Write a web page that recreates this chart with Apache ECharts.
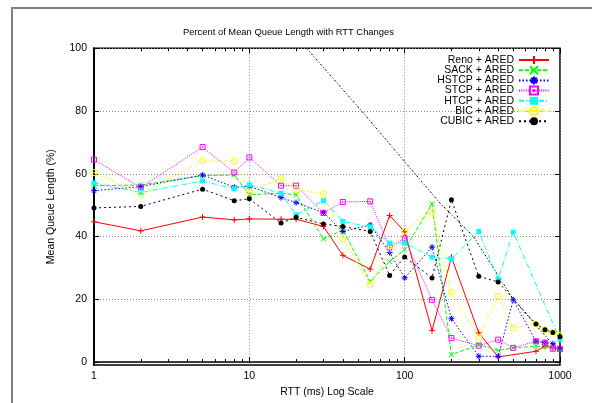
<!DOCTYPE html>
<html>
<head>
<meta charset="utf-8">
<script src="https://cdn.jsdelivr.net/npm/echarts@6/dist/echarts.min.js"></script>
<style>
html,body{margin:0;padding:0;background:#fff;}
#chart{width:592px;height:403px;}
</style>
</head>
<body>
<div id="chart"></div>
<script>
// RTT sample points (ms)
const rtt = [1, 2, 5, 8, 10, 16, 20, 30, 40, 60, 80, 100, 150, 200, 300, 400, 500, 700, 800, 900, 1000];

// Mean queue length (% of buffer) for each TCP variant with ARED
const reno  = [44.7, 41.8, 46.2, 45.3, 45.6, 45.5, 45.5, 43.2, 34.0, 29.6, 46.7, 41.5, 10.0, 33.4, 9.3, 1.6, null, 3.4, 5.0, 4.5, 4.3];
const sack  = [56.2, 56.4, 59.4, 59.6, 53.3, 53.8, 53.3, 39.2, 42.1, 25.7, 32.0, 35.8, 50.4, 2.3, 5.5, 3.7, 4.5, 5.0, 4.9, 4.5, 4.0];
const hstcp = [54.6, 55.9, 59.6, 55.7, 56.0, 52.4, 50.8, 47.6, 41.6, 43.7, 34.9, 26.8, 36.6, 13.8, 1.8, 1.8, 19.8, 6.6, 6.2, 5.8, 4.5];
const stcp  = [64.5, 55.6, 68.5, 60.4, 65.2, 56.2, 56.2, 47.5, 51.0, 51.2, 36.5, 39.4, 19.8, 7.6, 5.2, 7.1, 4.5, 6.6, 6.1, 4.2, 4.1];
const htcp  = [57.1, 54.0, 57.7, 55.2, 56.5, 53.8, 46.9, 51.4, 44.8, 43.1, 37.9, 37.9, 33.4, 32.8, 41.6, 26.4, 41.4, null, null, null, 7.1];
const bic   = [60.4, 53.4, 64.1, 64.0, 54.3, 58.6, 55.0, 53.6, 39.3, 24.5, 36.0, 41.8, 47.9, 22.3, 7.8, 20.9, 10.8, 12.2, 10.3, 9.5, 8.5];
const cubic = [49.1, 49.6, 55.1, 51.4, 52.0, 44.3, 46.1, 44.0, 43.2, 41.6, 27.6, 33.5, 26.8, 51.7, 27.3, 25.5, null, 12.1, 10.3, 9.4, 8.0];

// Unlabelled dash-dot reference curve
const guideRtt = [23.4, 52.9, 100, 169, 277, 500, 1000];
const guideVal = [100, 80, 63.9, 50.6, 40, 20, 3];

// Axis ticks
const yTicks = [0, 20, 40, 60, 80, 100];
const xMajor = [1, 10, 100, 1000];
const xMinor = [2,3,4,5,6,7,8,9,20,30,40,50,60,70,80,90,200,300,400,500,600,700,800,900];

const FONT = '"Liberation Sans", Arial, Helvetica, sans-serif';

const pair = (xs, ys) => xs.map((x, i) => [x, ys[i]]);

// marker shapes
const PLUS = 'path://M0,5L10,5M5,0L5,10';
const CROSS = 'path://M0,0L10,10M10,0L0,10';
const STAR = 'path://M0,5L10,5M5,0L5,10M1.5,1.5L8.5,8.5M8.5,1.5L1.5,8.5';
const OSQUARE = 'path://M0,0L10,0L10,10L0,10ZM4.5,4.5L5.5,4.5L5.5,5.5L4.5,5.5Z';
const OCIRCLE = 'path://M10,5A5,5,0,1,1,0,5A5,5,0,1,1,10,5ZM4.6,5A0.4,0.4,0,1,1,5.4,5A0.4,0.4,0,1,1,4.6,5Z';

function strokeSeries(name, ys, color, dash, symbol, size) {
  return {
    name, type: 'line', data: pair(rtt, ys), connectNulls: true,
    symbol, symbolSize: size, showSymbol: true,
    lineStyle: { color, width: 1, type: dash },
    itemStyle: { color: 'rgba(0,0,0,0)', borderColor: color, borderWidth: 1 },
    emphasis: { disabled: true }, animation: false, z: 3
  };
}
function fillSeries(name, ys, color, dash, symbol, size) {
  return {
    name, type: 'line', data: pair(rtt, ys), connectNulls: true,
    symbol, symbolSize: size, showSymbol: true,
    lineStyle: { color, width: 1, type: dash },
    itemStyle: { color, borderWidth: 0 },
    emphasis: { disabled: true }, animation: false, z: 3
  };
}

const series = [
  strokeSeries('Reno + ARED', reno, '#ff0000', 'solid', PLUS, 6),
  strokeSeries('SACK + ARED', sack, '#00ff00', [4, 2], CROSS, 5),
  strokeSeries('HSTCP + ARED', hstcp, '#0000ff', [1.5, 2], STAR, 6),
  strokeSeries('STCP + ARED', stcp, '#ff00ff', [1, 1.2], OSQUARE, 5),
  fillSeries('HTCP + ARED', htcp, '#00ffff', [5, 2, 1, 2], 'rect', 5),
  strokeSeries('BIC + ARED', bic, '#ffff00', [2, 2], OCIRCLE, 6),
  fillSeries('CUBIC + ARED', cubic, '#000000', [2, 3], 'circle', 5),
  {
    name: 'guide', type: 'line', data: pair(guideRtt, guideVal), symbol: 'none',
    lineStyle: { color: '#000', width: 1, type: [2, 2, 1, 2] },
    emphasis: { disabled: true }, animation: false, z: 2
  }
];

const gridLine = { show: true, lineStyle: { color: '#888', width: 1, type: [1, 2] } };

const chart = echarts.init(document.getElementById('chart'), null, { renderer: 'canvas' });
chart.setOption({
  backgroundColor: '#fff',
  animation: false,
  textStyle: { fontFamily: FONT },
  title: {
    text: 'Percent of Mean Queue Length with RTT Changes',
    left: 178, top: 23,
    textStyle: { fontFamily: FONT, fontSize: 9.4, fontWeight: 'normal', color: '#000' }
  },
  legend: {
    data: series.slice(0, 7).map(s => s.name),
    orient: 'vertical', right: 37, top: 49.5,
    align: 'right', itemWidth: 30, itemHeight: 10, itemGap: -0.8,
    textStyle: { fontFamily: FONT, fontSize: 10.5, color: '#000', lineHeight: 10 },
    selectedMode: false
  },
  grid: {
    left: 94, right: 32, top: 48.3, bottom: 37.6,
    show: true, borderColor: '#000', borderWidth: 1.5, backgroundColor: 'transparent'
  },
  xAxis: [
    {
      type: 'log', logBase: 10, min: 1, max: 1000, position: 'bottom',
      name: 'RTT (ms) Log Scale', nameLocation: 'middle', nameGap: 21,
      nameTextStyle: { fontFamily: FONT, fontSize: 10.5, color: '#000' },
      axisLine: { show: true, lineStyle: { color: '#000', width: 1.5 } },
      axisTick: { show: true, inside: true, length: 5, customValues: xMajor, lineStyle: { color: '#000' } },
      axisLabel: { show: true, customValues: xMajor, margin: 6, fontFamily: FONT, fontSize: 10.5, color: '#000',
                   formatter: v => String(Math.round(v)) },
      splitLine: gridLine, minorTick: { show: false }
    },
    {
      type: 'log', logBase: 10, min: 1, max: 1000, position: 'bottom',
      axisLine: { show: false },
      axisTick: { show: true, inside: true, length: 3, customValues: xMinor, lineStyle: { color: '#000' } },
      axisLabel: { show: false }, splitLine: { show: false }
    },
    {
      type: 'log', logBase: 10, min: 1, max: 1000, position: 'top',
      axisLine: { show: false },
      axisTick: { show: true, inside: true, length: 5, customValues: xMajor, lineStyle: { color: '#000' } },
      axisLabel: { show: false }, splitLine: { show: false }
    },
    {
      type: 'log', logBase: 10, min: 1, max: 1000, position: 'top',
      axisLine: { show: false },
      axisTick: { show: true, inside: true, length: 3, customValues: xMinor, lineStyle: { color: '#000' } },
      axisLabel: { show: false }, splitLine: { show: false }
    }
  ],
  yAxis: [
    {
      type: 'value', min: -1, max: 100, position: 'left',
      name: 'Mean Queue Length (%)', nameLocation: 'middle', nameGap: 37, nameRotate: 90,
      nameTextStyle: { fontFamily: FONT, fontSize: 10.5, color: '#000' },
      axisLine: { show: true, lineStyle: { color: '#000', width: 2 } },
      axisTick: { show: true, inside: true, length: 5, customValues: yTicks, lineStyle: { color: '#000' } },
      axisLabel: { show: true, customValues: yTicks, margin: 7, fontFamily: FONT, fontSize: 10.5, color: '#000' },
      splitLine: gridLine
    },
    {
      type: 'value', min: -1, max: 100, position: 'right',
      axisLine: { show: false },
      axisTick: { show: true, inside: true, length: 5, customValues: yTicks, lineStyle: { color: '#000' } },
      axisLabel: { show: false }, splitLine: { show: false }
    }
  ],
  graphic: [{
    type: 'rect', silent: true, z: 100,
    shape: { x: 12, y: 8, width: 600, height: 420 },
    style: { fill: 'none', stroke: '#808080', lineWidth: 2 }
  }],
  series
});
</script>
</body>
</html>
